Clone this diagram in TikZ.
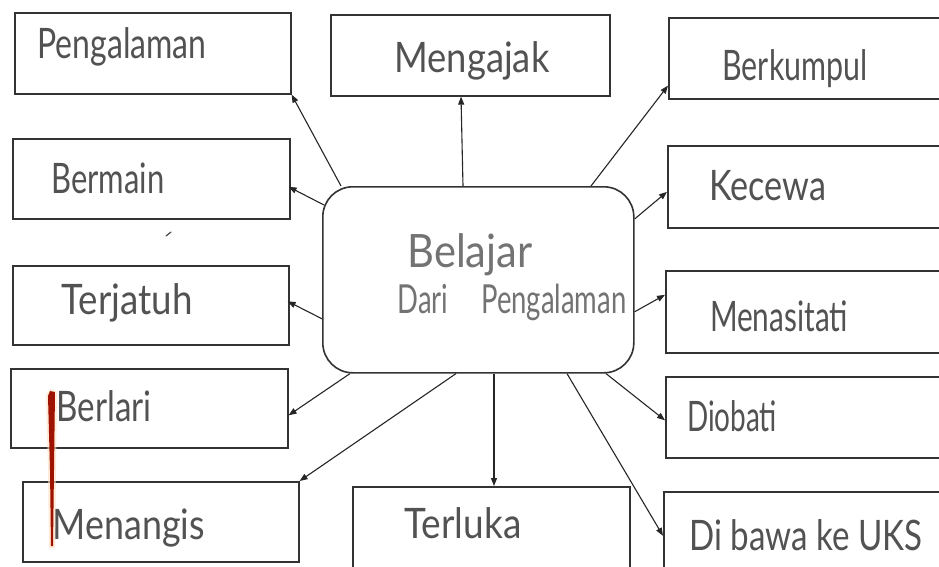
\documentclass[tikz,border=0pt]{standalone}
\usepackage{graphicx}
\usepackage{fontspec}
\setmainfont{Lato}
\usetikzlibrary{arrows.meta,calc}
% stretch a word horizontally to a given width, keeping its height
\newcommand\hw[2]{\resizebox{#1}{\height}{#2}}
\begin{document}
\begin{tikzpicture}[x=1pt,y=-1pt,
  box/.style={draw=black!80, line width=1.6pt, inner sep=0pt, anchor=north west},
  hub/.style={draw=black!80, line width=1.6pt, rounded corners=30pt, inner sep=0pt,
    anchor=north west, minimum width=311pt, minimum height=186pt},
  lbl/.style={text=black!68, inner sep=0pt, font=\fontsize{42}{44}\selectfont},
  hublbl/.style={text=black!55, inner sep=0pt, font=\fontsize{46}{48}\selectfont},
  link/.style={draw=black!85, line width=1.1pt, -{Triangle[length=8pt,width=6pt]}}]
\useasboundingbox (0,0) rectangle (939,566);
\clip (0,0) rectangle (939,566);
\fill[white] (0,0) rectangle (939,566);

% central idea
\node[hub] (c) at (322,186) {};
\node[hublbl] (c1) at (470,255) {\hw{125pt}{Belajar}};
\node[hublbl, font=\fontsize{40}{42}\selectfont] (c2) at (512,302) {\hw{229pt}{Dari\hspace{1.2em}Pengalaman}};

% left column
\node[box, minimum width=276pt, minimum height=81pt] (pen) at (14,12) {};
\node[box, minimum width=277pt, minimum height=80pt] (berm) at (12,138) {};
\node[box, minimum width=276pt, minimum height=79pt] (terj) at (12,265) {};
\node[box, minimum width=277pt, minimum height=79pt] (berl) at (10,368) {};
\node[box, minimum width=276pt, minimum height=80pt] (mena) at (22,481) {};

% top and bottom middle
\node[box, minimum width=279pt, minimum height=81pt] (meng) at (330,14) {};
\node[box, minimum width=277pt, minimum height=84pt] (terl) at (352,486) {};

% right column
\node[box, minimum width=285pt, minimum height=81pt] (berk) at (668,17) {};
\node[box, minimum width=285pt, minimum height=82pt] (kece) at (667,145) {};
\node[box, minimum width=285pt, minimum height=82pt] (nasi) at (665,270) {};
\node[box, minimum width=285pt, minimum height=81pt] (diob) at (665,376) {};
\node[box, minimum width=287pt, minimum height=86pt] (uks) at (663,491) {};

% labels
\node[lbl] (tpen) at (122,47) {\hw{169pt}{Pengalaman}};
\node[lbl] (tmeng) at (472,61) {\hw{155pt}{Mengajak}};
\node[lbl] (tberk) at (795,69) {\hw{145pt}{Berkumpul}};
\node[lbl] (tkece) at (768,186) {\hw{117pt}{Kecewa}};
\node[lbl] (tberm) at (108,178) {\hw{113pt}{Bermain}};
\node[lbl] (tterj) at (127,303) {\hw{131pt}{Terjatuh}};
\node[lbl] (tnasi) at (779,316) {\hw{138pt}{Menasitati}};
\node[lbl] (tberl) at (104,406) {\hw{95pt}{Berlari}};
\node[lbl] (tdiob) at (732,416) {\hw{90pt}{Diobati}};
\node[lbl] (tmena) at (129,528) {\hw{152pt}{Menangis}};
\node[lbl] (tterl) at (463,523) {\hw{117pt}{Terluka}};
\node[lbl] (tuks) at (806,535) {\hw{233pt}{Di bawa ke UKS}};

% connectors from the central idea
\draw[link] ($(c.north west)+(19,0)$) -- (pen.south east);
\draw[link] ($(c.north west)+(141,0)$) -- ($(meng.south west)+(131,0)$);
\draw[link] ($(c.north west)+(2,19)$) -- ($(berm.east)+(-2,8)$);
\draw[link] ($(c.north west)+(269,0)$) -- ($(berk.south west)+(0,-14)$);
\draw[link] ($(c.north east)+(0,33)$) -- ($(kece.west)+(0,5)$);
\draw[link] ($(c.west)+(0,39)$) -- ($(terj.east)+(-2,-4)$);
\draw[link] ($(c.east)+(0,32)$) -- ($(nasi.west)+(0,-17)$);
\draw[link] ($(c.south west)+(28,0)$) -- ($(berl.east)+(0,7)$);
\draw[link] ($(c.south west)+(134,0)$) -- (mena.north east);
\draw[link] ($(c.south west)+(172,0)$) -- ($(terl.north west)+(142,0)$);
\draw[link] ($(c.south west)+(284,0)$) -- ($(diob.west)+(0,3)$);
\draw[link] ($(c.south west)+(245,0)$) -- ($(uks.west)+(0,1)$);

% red pen stroke across the lower left boxes
\fill[orange!25, opacity=0.6] (46,395) -- (50,389) -- (57,391) -- (56,470) -- (55,548) -- (49,548) -- (48,470) -- cycle;
\fill[red!55!black!85!orange] (48,396) -- (50,391) -- (55,392) -- (54,470) -- (53,546) -- (51,546) -- (50,470) -- cycle;

% small pencil speck
\draw[black!70, line width=1.2pt, line cap=round] (166,236) -- (171,232);
\end{tikzpicture}
\end{document}
